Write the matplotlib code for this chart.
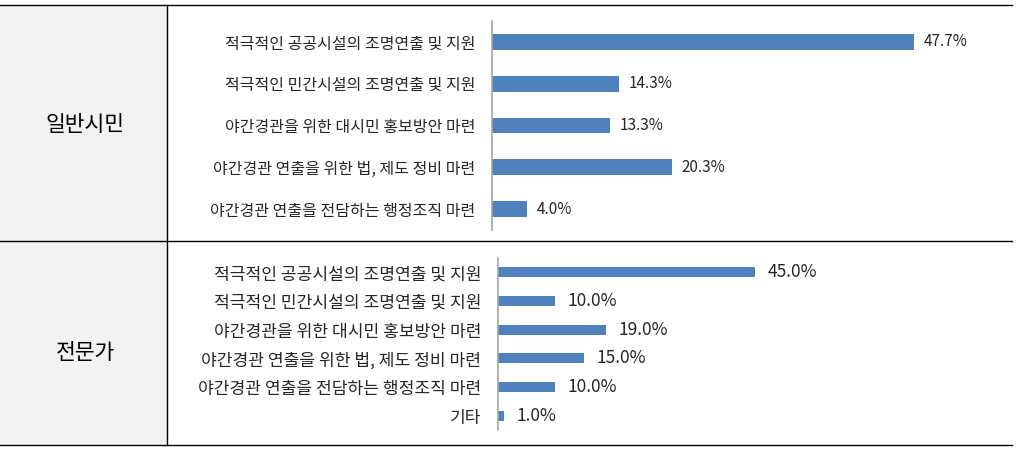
import matplotlib
matplotlib.use("Agg")
import matplotlib.pyplot as plt
from matplotlib.lines import Line2D
from matplotlib.patches import Rectangle

plt.rcParams['font.family'] = ['Noto Sans CJK KR', 'DejaVu Sans']

group_labels = ["일반시민", "전문가"]

cats_public = [
    "적극적인 공공시설의 조명연출 및 지원",
    "적극적인 민간시설의 조명연출 및 지원",
    "야간경관을 위한 대시민 홍보방안 마련",
    "야간경관 연출을 위한 법, 제도 정비 마련",
    "야간경관 연출을 전담하는 행정조직 마련",
]
vals_public = [47.7, 14.3, 13.3, 20.3, 4.0]

cats_expert = [
    "적극적인 공공시설의 조명연출 및 지원",
    "적극적인 민간시설의 조명연출 및 지원",
    "야간경관을 위한 대시민 홍보방안 마련",
    "야간경관 연출을 위한 법, 제도 정비 마련",
    "야간경관 연출을 전담하는 행정조직 마련",
    "기타",
]
vals_expert = [45.0, 10.0, 19.0, 15.0, 10.0, 1.0]

W, H = 1016, 454
fig = plt.figure(figsize=(W / 100, H / 100), dpi=100)

def fx(px):
    return px / W

def fy(py):
    return 1 - py / H

# background table
fig.patches.append(Rectangle((0, fy(445)), fx(167), fy(5) - fy(445),
                             transform=fig.transFigure, facecolor="#f2f2f2",
                             edgecolor="none", zorder=0))
for y in (5, 241, 445):
    fig.add_artist(Line2D([0, fx(1012)], [fy(y), fy(y)], color="black", lw=1.0))
fig.add_artist(Line2D([fx(167), fx(167)], [fy(5), fy(445)], color="black", lw=1.0))

fig.text(fx(85), fy(125), group_labels[0], ha="center", va="center", fontsize=15.5)
fig.text(fx(85), fy(353), group_labels[1], ha="center", va="center", fontsize=15.5)

BAR = "#4f81bd"

def draw(ax, cats, vals, xmax, bar_h, cat_fs, val_fs, pad_px, off):
    y = list(range(len(cats)))
    ax.barh(y, vals, height=bar_h, color=BAR)
    ax.set_ylim(len(cats) - 0.5, -0.5)
    ax.set_xlim(0, xmax)
    ax.set_yticks(y)
    ax.set_yticklabels(cats, fontsize=cat_fs, color="#262626")
    ax.tick_params(axis="y", length=0, pad=pad_px)
    ax.set_xticks([])
    for s in ("top", "right", "bottom"):
        ax.spines[s].set_visible(False)
    ax.spines["left"].set_color("#a6a6a6")
    ax.spines["left"].set_linewidth(1.2)
    ax.patch.set_alpha(0)
    for yi, v in zip(y, vals):
        ax.annotate(f"{v:.1f}%", (v, yi), xytext=(off, 0), textcoords="offset points",
                    ha="left", va="center", fontsize=val_fs, color="#262626")

# top axes: left 492, y 21..230, 8.85 px per %
ax1 = fig.add_axes([fx(492), fy(230), fx(55 * 8.85), fy(21) - fy(230)])
draw(ax1, cats_public, vals_public, 55, 0.38, 11.5, 11, 12, 7)

# bottom axes: left 498, y 258..430, 5.71 px per %
ax2 = fig.add_axes([fx(498), fy(430), fx(90 * 5.71), fy(258) - fy(430)])
draw(ax2, cats_expert, vals_expert, 90, 0.36, 12.3, 12.5, 12, 9)

fig.savefig("out.png", dpi=100)
